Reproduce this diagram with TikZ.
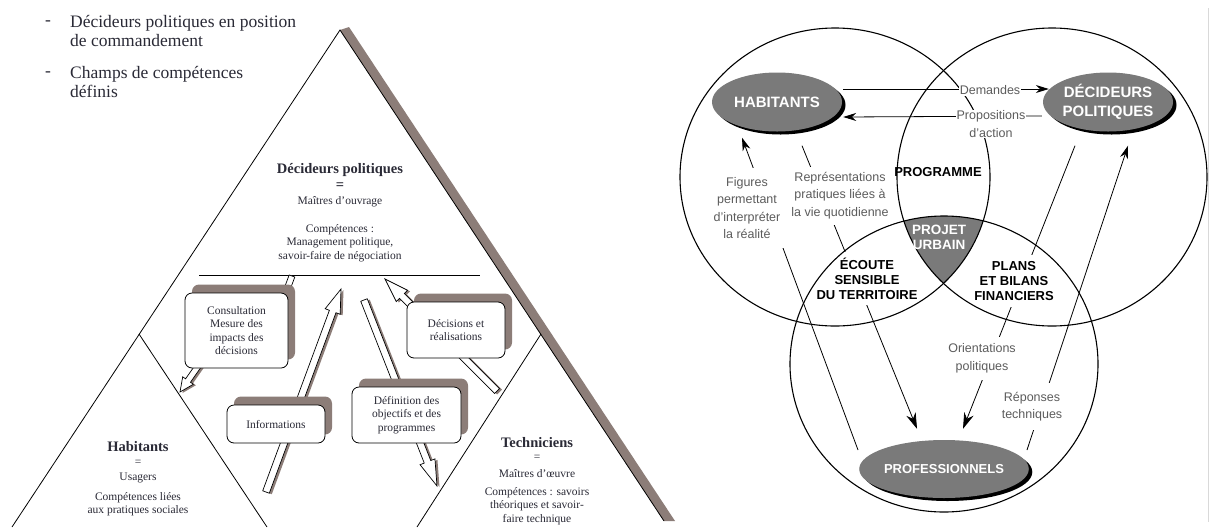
\documentclass[tikz,border=0pt]{standalone}
\usepackage{fontspec}
\setmainfont{Liberation Serif}
\newfontfamily\hsans{Liberation Sans}
\usetikzlibrary{calc,arrows.meta,shapes.geometric,shadows}

\definecolor{ink}{HTML}{2A2A36}
\definecolor{umber}{HTML}{8C7D78}
\definecolor{labelgray}{HTML}{5C5C5C}
\definecolor{discgray}{HTML}{7A7A7A}

\tikzset{
  edge/.style={draw=black, line width=0.8pt},
  hollow/.style={draw=black, line width=0.7pt, fill=white, line join=miter},
  card/.style={draw=black, line width=0.8pt, fill=white, rounded corners=7pt,
    font=\fontsize{11.5}{13.5}\selectfont, text=ink, align=center, inner sep=2pt,
    drop shadow={shadow xshift=7pt, shadow yshift=8.5pt, fill=umber, opacity=1}},
  listtext/.style={font=\fontsize{17.5}{19}\selectfont, text=ink, align=left, inner sep=0pt, anchor=west},
  dashmark/.style={font=\fontsize{17.5}{19}\selectfont, text=ink, inner sep=0pt},
  roletitle/.style={font=\bfseries\fontsize{14.5}{16}\selectfont, text=ink, inner sep=0pt},
  roletext/.style={font=\fontsize{11.5}{13.5}\selectfont, text=ink, inner sep=0pt, align=center},
  ring/.style={draw=black, line width=1.1pt},
  actor/.style={ellipse, fill=discgray, minimum width=130pt, minimum height=59pt, inner sep=0pt,
    text=white, align=center, font=\hsans\bfseries\fontsize{15}{18.5}\selectfont,
    drop shadow={shadow xshift=3.5pt, shadow yshift=-3pt, fill=black, opacity=1}},
  flow/.style={draw=black, line width=0.8pt, -{Stealth[length=13pt,width=8pt]}},
  flowbig/.style={draw=black, line width=0.8pt, -{Stealth[length=16pt,width=10pt]}},
  gtext/.style={font=\hsans\fontsize{12.5}{17.5}\selectfont, text=labelgray, fill=white,
    align=center, inner sep=1pt},
  btext/.style={font=\hsans\bfseries\fontsize{13}{15.2}\selectfont, text=black, align=center, inner sep=1pt},
}

% hollow arrow: start, tip, shaft half width, head half width, head length
\newcommand\holarrow[5]{%
  \coordinate (ha-s) at (#1);
  \coordinate (ha-t) at (#2);
  \coordinate (ha-b) at ($(ha-t)!#5!(ha-s)$);
  \coordinate (ha-1) at ($(ha-s)!#3!90:(ha-t)$);
  \coordinate (ha-2) at ($(ha-b)!#3!90:(ha-t)$);
  \coordinate (ha-3) at ($(ha-b)!#4!90:(ha-t)$);
  \coordinate (ha-4) at ($(ha-b)!#4!-90:(ha-t)$);
  \coordinate (ha-5) at ($(ha-b)!#3!-90:(ha-t)$);
  \coordinate (ha-6) at ($(ha-s)!#3!-90:(ha-t)$);
  \begin{scope}[transform canvas={xshift=2.5pt,yshift=-1pt}]
    \fill[umber] (ha-1) -- (ha-2) -- (ha-3) -- (ha-t) -- (ha-4) -- (ha-5) -- (ha-6) -- cycle;
  \end{scope}
  \draw[hollow] (ha-1) -- (ha-2) -- (ha-3) -- (ha-t) -- (ha-4) -- (ha-5) -- (ha-6) -- cycle;
}
% hollow bar: start, end, half width
\newcommand\holbar[3]{%
  \coordinate (hb-s) at (#1);
  \coordinate (hb-t) at (#2);
  \draw[hollow] ($(hb-s)!#3!90:(hb-t)$) -- ($(hb-t)!#3!-90:(hb-s)$) -- ($(hb-t)!#3!90:(hb-s)$) -- ($(hb-s)!#3!-90:(hb-t)$) -- cycle;
}

\begin{document}
\begin{tikzpicture}[x=1pt,y=-1pt]
\useasboundingbox (0,0) rectangle (1210,531);
\fill[white] (0,0) rectangle (1210,531);

% ---------- pyramid of actors ----------
\fill[umber] (340,30) -- (349,27) -- (675,521) -- (664,521) -- cycle;
\draw[edge] (12,527) -- (340,30) -- (664,521);
\draw[edge] (139,334) -- (267,527);
\draw[edge] (541,334) -- (417,527);
\draw[edge] (199,275) -- (480,275);

% exchanges between the three corners
\holarrow{266,492}{341,289}{3.5pt}{8pt}{24pt}
\holarrow{364,300}{437,486}{3.5pt}{8pt}{26pt}
\holarrow{497,391}{385,279}{3.5pt}{8pt}{24pt}
\holarrow{201,362}{180,392}{3pt}{6.5pt}{14pt}
\holbar{286,292}{292,276}{3pt}

\node[card, minimum width=103pt, minimum height=75pt] (consult) at (236.5,330.5)
  {Consultation\\Mesure des\\impacts des\\décisions};
\node[card, minimum width=98pt, minimum height=38pt] (infos) at (276,424) {Informations};
\node[card, minimum width=98pt, minimum height=56pt] (decis) at (456,330) {Décisions et\\réalisations};
\node[card, minimum width=109pt, minimum height=56pt] (defin) at (406.5,415)
  {Définition des\\objectifs et des\\programmes};

% top corner
\node[roletitle] (dpt) at (340,170) {Décideurs politiques};
\node[roletitle] (dpe) at (340,186) {=};
\node[roletext] (dpm) at (340,202) {Maîtres d’ouvrage};
\node[roletext] (dpc) at (340,243) {Compétences :\\Management politique,\\savoir-faire de négociation};

% bottom left corner
\node[roletitle] (hbt) at (138,447) {Habitants};
\node[roletext] (hbe) at (138,463) {=};
\node[roletext] (hbu) at (138,478) {Usagers};
\node[roletext] (hbc) at (138,504) {Compétences liées\\aux pratiques sociales};

% bottom right corner
\node[roletitle] (tct) at (537,443) {Techniciens};
\node[roletext] (tce) at (537,458) {=};
\node[roletext] (tcm) at (537,474) {Maîtres d’œuvre};
\node[roletext] (tcc) at (537,506) {Compétences : savoirs\\théoriques et savoir-\\faire technique};

% notes above the pyramid
\node[dashmark] (d1) at (48,23) {-};
\node[listtext] (l1) at (70,31) {Décideurs politiques en position\\de commandement};
\node[dashmark] (d2) at (48,74) {-};
\node[listtext] (l2) at (70,82) {Champs de compétences\\définis};

% ---------- three overlapping circles ----------
\begin{scope}
  \clip (835,177) ellipse [x radius=155pt, y radius=149pt];
  \clip (1052,177) ellipse [x radius=155pt, y radius=149pt];
  \fill[discgray] (944,364) ellipse [x radius=154pt, y radius=148pt];
\end{scope}

\node[actor] (hab) at (777,102) {HABITANTS};
\node[actor] (dec) at (1108,102) {DÉCIDEURS\\POLITIQUES};
\node[actor, minimum width=132pt, minimum height=58pt, font=\hsans\bfseries\fontsize{13}{15}\selectfont] (pro) at (944,469) {PROFESSIONNELS};

\draw[flow] ($(hab.east)+(1,-13)$) -- ($(dec.west)+(6,-13)$);
\draw[flow] ($(dec.west)+(-1,14)$) -- ($(hab.east)+(1,15)$);
\draw[flow] ($(pro.west)+(-1,-19)$) -- ($(hab.south)+(-35,6)$);
\draw[flowbig] ($(hab.south)+(25,14)$) -- ($(pro.north)+(-27,-11)$);
\draw[flowbig] ($(dec.south)+(-33,14)$) -- ($(pro.north)+(19,-11)$);
\draw[flow] ($(pro.east)+(-2,-19)$) -- ($(dec.south)+(20,14)$);

\node[btext, fill=white, minimum height=53pt] (ecoute) at (867,278.5) {ÉCOUTE\\SENSIBLE\\DU TERRITOIRE};
\node[btext, fill=white, minimum height=52pt] (plans) at (1014,281) {PLANS\\ET BILANS\\FINANCIERS};
\node[btext] (prog) at (938,172) {PROGRAMME};

\draw[ring] (835,177) ellipse [x radius=155pt, y radius=149pt];
\draw[ring] (1052,177) ellipse [x radius=155pt, y radius=149pt];
\draw[ring] (944,364) ellipse [x radius=154pt, y radius=148pt];

\node[btext, text=white, font=\hsans\bfseries\fontsize{13.5}{15}\selectfont] (urb) at (939,237) {PROJET\\URBAIN};

\node[gtext] (dem) at (990,90) {Demandes};
\node[gtext] (prop) at (991,124) {Propositions\\d’action};
\node[gtext, minimum width=80pt, minimum height=80pt] (fig) at (747,208) {Figures\\permettant\\d’interpréter\\la réalité};
\node[gtext, minimum height=58pt] (rep) at (840,195.5) {Représentations\\pratiques liées à\\la vie quotidienne};
\node[gtext, minimum height=43pt] (ori) at (982,358.5) {Orientations\\politiques};
\node[gtext, minimum height=47pt] (rpt) at (1032,406.5) {Réponses\\techniques};

\draw[gray!30, line width=0.8pt] (1208.5,8) -- (1208.5,522);
\end{tikzpicture}
\end{document}
